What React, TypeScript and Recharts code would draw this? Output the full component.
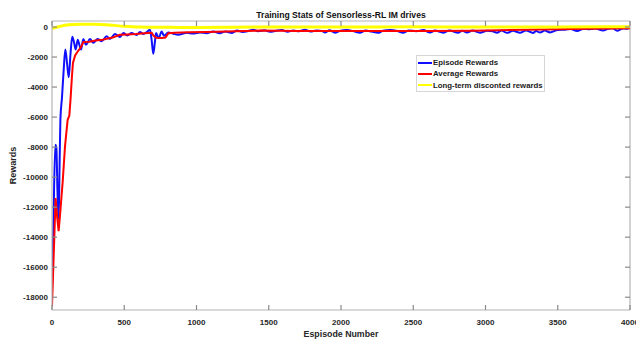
import React from 'react';
import { LineChart, Line, XAxis, YAxis, Legend, ReferenceLine } from 'recharts';

const FONT = '"Liberation Sans", Arial, Helvetica, sans-serif';

// Axis ticks
const xTicks = [0, 500, 1000, 1500, 2000, 2500, 3000, 3500, 4000];
const yTicks = [0, -2000, -4000, -6000, -8000, -10000, -12000, -14000, -16000, -18000];
const xDomain = [0, 4000];
const yDomain = [-18850, 400];

// Episode rewards (raw per-episode return)
const episodeEps = [
  0, 10, 23, 30, 38, 46, 52, 58, 69, 80, 92, 104, 116, 128, 140, 152, 164, 178, 190, 201,
  217, 235, 263, 286, 316, 344, 378, 401, 436, 470, 494, 521, 551, 585, 609, 632, 660, 678, 690, 701,
  712, 720, 738, 759, 775, 805, 840, 872, 934, 976, 1024, 1070, 1116, 1160, 1200, 1246, 1280, 1320, 1360, 1391,
  1426, 1470, 1510, 1550, 1590, 1630, 1670, 1710, 1750, 1790, 1830, 1870, 1889, 1920, 1958, 1990, 2040, 2090, 2131, 2170,
  2210, 2256, 2290, 2340, 2390, 2429, 2470, 2520, 2570, 2616, 2650, 2706, 2750, 2810, 2840, 2872, 2910, 2962, 3010, 3050,
  3080, 3110, 3149, 3190, 3239, 3280, 3329, 3350, 3377, 3410, 3447, 3500, 3550, 3590, 3634, 3680, 3720, 3760, 3814, 3850,
  3880, 3911, 3950, 3990,
];
const episodeVals = [
  -17500, -13000, -7850, -8000, -11000, -12800, -9500, -6200, -4700, -3000, -1500, -2400, -3350, -1800, -650, -1000, -1500, -850, -1200, -1500,
  -800, -1180, -800, -1050, -800, -950, -620, -800, -470, -670, -400, -560, -400, -530, -340, -470, -300, -180, -900, -1780,
  -1000, -400, -730, -300, -580, -360, -450, -520, -380, -440, -360, -420, -300, -420, -300, -400, -230, -330, -260, -180,
  -280, -220, -320, -250, -200, -310, -240, -280, -190, -300, -230, -270, -370, -220, -380, -260, -200, -290, -380, -240,
  -300, -390, -250, -200, -270, -380, -230, -280, -200, -370, -240, -380, -230, -390, -250, -360, -240, -380, -250, -290,
  -380, -240, -390, -250, -380, -230, -400, -260, -370, -240, -360, -200, -180, -130, -270, -120, -150, -100, -230, -110,
  -90, -250, -100, -120,
];

// Average rewards (moving average)
const averageEps = [
  0, 25, 36, 46, 55, 74, 90, 108, 120, 129, 138, 145, 160, 180, 200, 217, 260, 300, 350, 378,
  420, 470, 520, 580, 640, 690, 705, 720, 760, 785, 805, 850, 950, 1070, 1200, 1440, 1700, 2000, 2300, 2600,
  2900, 3100, 3400, 3700, 4000,
];
const averageVals = [
  -18600, -11400, -12700, -13600, -12600, -10300, -7950, -6200, -5900, -4700, -3300, -2400, -1900, -1600, -1350, -1000, -980, -900, -850, -780,
  -700, -520, -500, -470, -420, -380, -600, -720, -730, -700, -420, -380, -350, -330, -300, -240, -260, -260, -270, -270,
  -250, -210, -170, -120, -90,
];

// Long-term discounted rewards
const discountedEps = [0, 40, 100, 200, 300, 400, 500, 600, 800, 1000, 1500, 2000, 2500, 3000, 3500, 4000];
const discountedVals = [-100, 0, 130, 180, 190, 130, 50, 0, -20, -30, 0, 0, 10, 0, 0, 20];

const seriesNames = ['Episode Rewards', 'Average Rewards', 'Long-term disconted rewards'];
const seriesColors = ['#1010ff', '#ff0000', '#ffff00'];

const toRows = (eps: number[], vals: number[]) => eps.map((e, i) => ({ episode: e, value: vals[i] }));
const episodeData = toRows(episodeEps, episodeVals);
const averageData = toRows(averageEps, averageVals);
const discountedData = toRows(discountedEps, discountedVals);

// Plot box (set by the chart margins and axis sizes below)
const PLOT_TOP = 21;
const PLOT_BOTTOM = 310;
const PLOT_LEFT = 52;
const PLOT_RIGHT = 630;
const TICK_LEN = 5;
const FRAME = '#b4b4b4';
const TICK_COLOR = '#8a8a8a';
const TEXT_COLOR = '#262626';

const XTick = (props: any) => {
  const { x, y, payload } = props;
  return (
    <g>
      <line x1={x} x2={x} y1={PLOT_BOTTOM} y2={PLOT_BOTTOM - TICK_LEN} stroke={TICK_COLOR} strokeWidth={1.2} />
      <line x1={x} x2={x} y1={PLOT_TOP} y2={PLOT_TOP + TICK_LEN} stroke={TICK_COLOR} strokeWidth={1.2} />
      <text x={x} y={y + 15} textAnchor="middle" fontFamily={FONT} fontSize={8} fontWeight="bold" fill={TEXT_COLOR}>
        {payload.value}
      </text>
    </g>
  );
};

const YTick = (props: any) => {
  const { x, y, payload } = props;
  return (
    <g>
      <line x1={PLOT_LEFT} x2={PLOT_LEFT + TICK_LEN} y1={y} y2={y} stroke={TICK_COLOR} strokeWidth={1.2} />
      <line x1={PLOT_RIGHT} x2={PLOT_RIGHT - TICK_LEN} y1={y} y2={y} stroke={TICK_COLOR} strokeWidth={1.2} />
      <text x={x - 4} y={y + 3} textAnchor="end" fontFamily={FONT} fontSize={8} fontWeight="bold" fill={TEXT_COLOR}>
        {payload.value}
      </text>
    </g>
  );
};

const LegendBox = () => (
  <div
    style={{
      width: 127,
      height: 34,
      border: '1px solid #d6d6d6',
      background: '#ffffff',
      fontFamily: FONT,
      fontSize: 7.8,
      fontWeight: 'bold',
      color: '#1a1a1a',
      paddingTop: 1,
      boxSizing: 'content-box',
    }}
  >
    {seriesNames.map((name, i) => (
      <div key={name} style={{ display: 'flex', alignItems: 'center', height: 11.3 }}>
        <div style={{ width: 14, height: 2, background: seriesColors[i], marginLeft: 1, marginRight: 1 }} />
        <span style={{ whiteSpace: 'nowrap' }}>{name}</span>
      </div>
    ))}
  </div>
);

export default function App() {
  return (
    <div style={{ position: 'absolute', left: 0, top: 0, width: 636, height: 340, background: '#ffffff' }}>
      <div
        style={{
          position: 'absolute',
          left: PLOT_LEFT,
          width: PLOT_RIGHT - PLOT_LEFT,
          top: 9,
          textAlign: 'center',
          fontFamily: FONT,
          fontSize: 8.6,
          fontWeight: 'bold',
          color: '#111',
          lineHeight: '12px',
          zIndex: 2,
        }}
      >
        Training Stats of Sensorless-RL IM drives
      </div>
      <LineChart width={636} height={340} margin={{ top: PLOT_TOP, right: 636 - PLOT_RIGHT, bottom: 0, left: 0 }}>
        <XAxis
          dataKey="episode"
          type="number"
          domain={xDomain}
          ticks={xTicks}
          allowDataOverflow
          height={PLOT_BOTTOM === 310 ? 30 : 30}
          tickSize={0}
          tickMargin={0}
          tickLine={false}
          axisLine={{ stroke: FRAME, strokeWidth: 1.2 }}
          tick={<XTick />}
          interval={0}
          label={{ value: 'Espisode Number', position: 'insideBottom', offset: 3, fontFamily: FONT, fontSize: 8.8, fontWeight: 'bold', fill: TEXT_COLOR }}
        />
        <YAxis
          dataKey="value"
          type="number"
          domain={yDomain}
          ticks={yTicks}
          allowDataOverflow
          width={PLOT_LEFT}
          tickSize={0}
          tickMargin={0}
          tickLine={false}
          axisLine={{ stroke: FRAME, strokeWidth: 1.2 }}
          tick={<YTick />}
          interval={0}
          label={{ value: 'Rewards', angle: -90, position: 'insideLeft', offset: 13, style: { textAnchor: 'middle' }, fontFamily: FONT, fontSize: 9, fontWeight: 'bold', fill: TEXT_COLOR }}
        />
        <ReferenceLine y={yDomain[1]} stroke={FRAME} strokeWidth={1.2} />
        <ReferenceLine x={xDomain[1]} stroke={FRAME} strokeWidth={1.2} />
        <Line data={episodeData} dataKey="value" name={seriesNames[0]} type="monotone" stroke={seriesColors[0]} strokeWidth={2} dot={false} isAnimationActive={false} />
        <Line data={averageData} dataKey="value" name={seriesNames[1]} type="linear" stroke={seriesColors[1]} strokeWidth={2} dot={false} isAnimationActive={false} />
        <Line data={discountedData} dataKey="value" name={seriesNames[2]} type="monotone" stroke={seriesColors[2]} strokeWidth={3} dot={false} isAnimationActive={false} />
        <Legend
          layout="vertical"
          align="center"
          verticalAlign="middle"
          content={<LegendBox />}
          wrapperStyle={{ position: 'absolute', left: 416, top: 55, width: 129, height: 36 }}
        />
      </LineChart>
    </div>
  );
}
